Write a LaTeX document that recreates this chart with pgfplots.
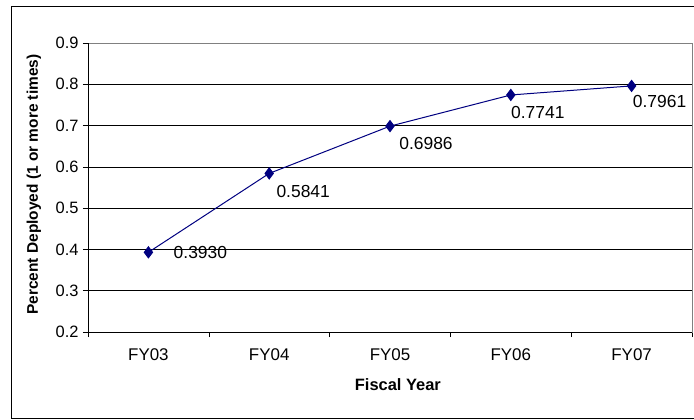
\documentclass[border=0pt]{standalone}
\usepackage{pgfplots}
\pgfplotsset{compat=1.18}
\usepackage{pgfplotstable}
\usepackage{fontspec}
\setmainfont{Liberation Sans}
\definecolor{navy}{RGB}{0,0,128}
\definecolor{frame}{RGB}{128,128,128}
\pgfplotstableread{
x y dx dy lab
1 0.3930 52 0 0.3930
2 0.5841 34 18 0.5841
3 0.6986 36 17 0.6986
4 0.7741 27 18 0.7741
5 0.7961 28 16 0.7961
}\datatab
\begin{document}
\begin{tikzpicture}
\begin{axis}[
  scale only axis, width=604bp, height=289bp,
  xmin=0.5, xmax=5.5, ymin=0.2, ymax=0.9,
  xtick={1,2,3,4,5},
  xticklabels={FY03,FY04,FY05,FY06,FY07},
  minor xtick={0.5,1.5,2.5,3.5,4.5,5.5},
  ytick={0.2,0.3,0.4,0.5,0.6,0.7,0.8,0.9},
  xtick pos=bottom, ytick pos=left,
  ymajorgrids, grid style={black, line width=0.6bp},
  major x tick style={draw=none},
  minor x tick style={black, line width=0.6bp},
  major y tick style={black, line width=0.6bp},
  tick align=outside, major tick length=5bp, minor tick length=5bp,
  axis line style={frame, line width=0.8bp},
  /pgf/number format/assume math mode=true,
  yticklabel style={/pgf/number format/fixed, /pgf/number format/precision=1, /pgf/number format/fixed zerofill, font=\fontsize{16.5}{19}\selectfont, xshift=-1bp},
  xticklabel style={font=\fontsize{17}{20}\selectfont, yshift=-8bp},
  xlabel={\textbf{Fiscal Year}},
  xlabel style={font=\fontsize{16.5}{19}\selectfont, at={(rel axis cs:0.513,0)}, anchor=center, yshift=-53bp},
  ylabel={\textbf{Percent Deployed (1 or more times)}},
  ylabel style={font=\fontsize{15.5}{18}\selectfont, at={(rel axis cs:0,0.51)}, anchor=center, yshift=54bp},
  clip=false,
  point meta=explicit symbolic,
  visualization depends on={\thisrow{dx}\as\dx},
  visualization depends on={\thisrow{dy}\as\dy},
  nodes near coords={\pgfplotspointmeta},
  nodes near coords style={font=\fontsize{17.5}{20}\selectfont, text=black, anchor=center, xshift=\dx bp, yshift=-\dy bp, inner sep=0pt},
  after end axis/.code={
    \draw[black, line width=0.8bp] (rel axis cs:0,1) -- (rel axis cs:0,0) -- (rel axis cs:1,0);
    \coordinate (AXSW) at (rel axis cs:0,0);
  },
]
\addplot[navy, line width=1bp, mark=diamond*, mark size=5.5bp, mark options={fill=navy, draw=navy}]
  table[x=x, y=y, meta=lab] {\datatab};
\end{axis}
\pgfresetboundingbox
\path (AXSW) ++(-88bp,-88bp) coordinate (BL);
\useasboundingbox (BL) rectangle ++(694bp,420bp);
\draw[black, line width=0.8bp] ([shift={(700bp,414bp)}]BL) -- ([shift={(11bp,414bp)}]BL) -- ([shift={(11bp,2bp)}]BL) -- ([shift={(700bp,2bp)}]BL);
\end{tikzpicture}
\end{document}
